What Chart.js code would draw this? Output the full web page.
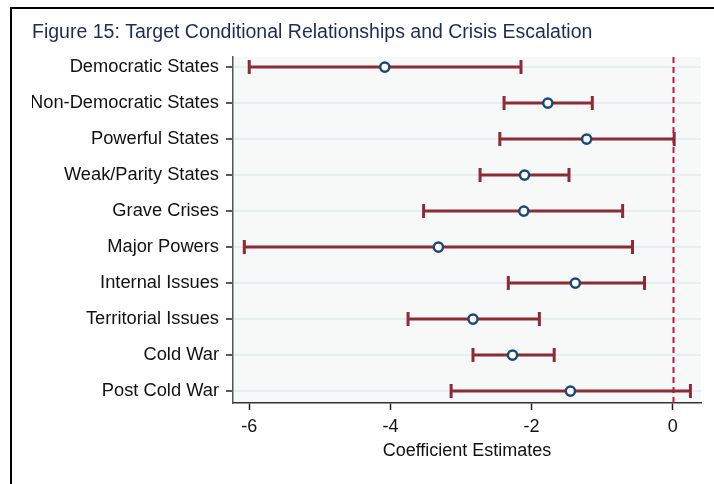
<!DOCTYPE html>
<html>
<head>
<meta charset="utf-8">
<script src="https://cdn.jsdelivr.net/npm/chart.js@4"></script>
<style>
  html, body { margin: 0; padding: 0; background: #fff; overflow: hidden; }
  #wrap { position: relative; width: 714px; height: 484px; }
  #frame { position: absolute; left: 10px; top: 7px; width: 720px; height: 490px;
           border-left: 2px solid #000; border-top: 2px solid #000; pointer-events: none; }
</style>
</head>
<body>
<div id="wrap">
  <canvas id="chart" width="714" height="484"></canvas>
  <div id="frame"></div>
</div>
<script>
// categories, top to bottom
const categories = ['Democratic States', 'Non-Democratic States', 'Powerful States', 'Weak/Parity States',
  'Grave Crises', 'Major Powers', 'Internal Issues', 'Territorial Issues', 'Cold War', 'Post Cold War'];
// point estimates and confidence bounds
const estimates = [-4.08, -1.77, -1.22, -2.10, -2.11, -3.32, -1.38, -2.83, -2.27, -1.45];
const lowerCI   = [-6.00, -2.39, -2.45, -2.73, -3.53, -6.07, -2.33, -3.75, -2.83, -3.14];
const upperCI   = [-2.15, -1.14,  0.02, -1.47, -0.71, -0.57, -0.40, -1.89, -1.68,  0.25];
const xTicks = [-6, -4, -2, 0];
const refLine = 0;

const FONT = 'Liberation Sans, Arial, Helvetica, sans-serif';
const BAR_COLOR = '#8e2a36';
const MARK_COLOR = '#1b4878';

// plot background, error bars + dashed zero line, drawn under the markers
const errorBars = {
  id: 'errorBars',
  beforeDraw(chart){
    const {ctx, chartArea: a} = chart;
    ctx.save();
    ctx.fillStyle = '#f7f9f9';
    ctx.fillRect(a.left, a.top, a.right - a.left, a.bottom - a.top);
    ctx.restore();
  },
  beforeDatasetsDraw(chart){
    const {ctx, chartArea: a} = chart;
    const xs = chart.scales.x, ys = chart.scales.y;
    ctx.save();
    // reference line
    const x0 = Math.round(xs.getPixelForValue(refLine)) + 0.5;
    ctx.strokeStyle = '#c4173f';
    ctx.lineWidth = 2;
    ctx.setLineDash([6, 4]);
    ctx.beginPath();
    ctx.moveTo(x0, a.top);
    ctx.lineTo(x0, a.bottom);
    ctx.stroke();
    ctx.setLineDash([]);
    // whiskers
    ctx.strokeStyle = BAR_COLOR;
    ctx.lineWidth = 3;
    const cap = 7;
    categories.forEach((c, i) => {
      const y = ys.getPixelForValue(i + 1);
      const xl = xs.getPixelForValue(lowerCI[i]);
      const xh = xs.getPixelForValue(upperCI[i]);
      ctx.beginPath();
      ctx.moveTo(xl, y); ctx.lineTo(xh, y);
      ctx.moveTo(xl, y - cap); ctx.lineTo(xl, y + cap);
      ctx.moveTo(xh, y - cap); ctx.lineTo(xh, y + cap);
      ctx.stroke();
    });
    ctx.restore();
  }
};

new Chart(document.getElementById('chart'), {
  type: 'scatter',
  data: {
    datasets: [{
      data: estimates.map((v, i) => ({x: v, y: i + 1})),
      pointRadius: 4.6,
      pointBorderWidth: 2.5,
      pointBackgroundColor: '#fff',
      pointBorderColor: MARK_COLOR
    }]
  },
  options: {
    responsive: false,
    animation: false,
    layout: { padding: { left: 32, right: 13, top: 0, bottom: 0 } },
    plugins: {
      legend: { display: false },
      tooltip: { enabled: false },
      title: {
        display: true,
        text: 'Figure 15: Target Conditional Relationships and Crisis Escalation',
        align: 'start',
        color: '#1d2b5c',
        font: { family: FONT, size: 19.5, weight: 'normal', lineHeight: 1.2 },
        padding: { top: 21, bottom: 12.6 }
      }
    },
    scales: {
      x: {
        type: 'linear',
        min: -6.23, max: 0.4,
        afterBuildTicks: s => { s.ticks = xTicks.map(v => ({value: v})); },
        afterFit: s => { s.height = 81; },
        grid: { drawOnChartArea: false, tickLength: 7, tickColor: '#222', tickWidth: 1.5 },
        border: { color: '#333', width: 1.5 },
        ticks: { color: '#111', padding: 6, font: { family: FONT, size: 18 } },
        title: {
          display: true, text: 'Coefficient Estimates', color: '#111',
          font: { family: FONT, size: 18 }, padding: { top: 0, bottom: 22 }
        }
      },
      y: {
        type: 'linear',
        reverse: true,
        min: 0.72, max: 10.33,
        afterBuildTicks: s => { s.ticks = categories.map((c, i) => ({value: i + 1})); },
        afterFit: s => { s.width = 201; },
        grid: { color: '#e7eef2', lineWidth: 2, tickLength: 7, tickColor: '#222', tickWidth: 1.5 },
        border: { color: '#555', width: 1.5 },
        ticks: {
          color: '#111', padding: 7, font: { family: FONT, size: 18.3 },
          callback: v => categories[Math.round(v) - 1]
        }
      }
    }
  },
  plugins: [errorBars]
});
</script>
</body>
</html>
